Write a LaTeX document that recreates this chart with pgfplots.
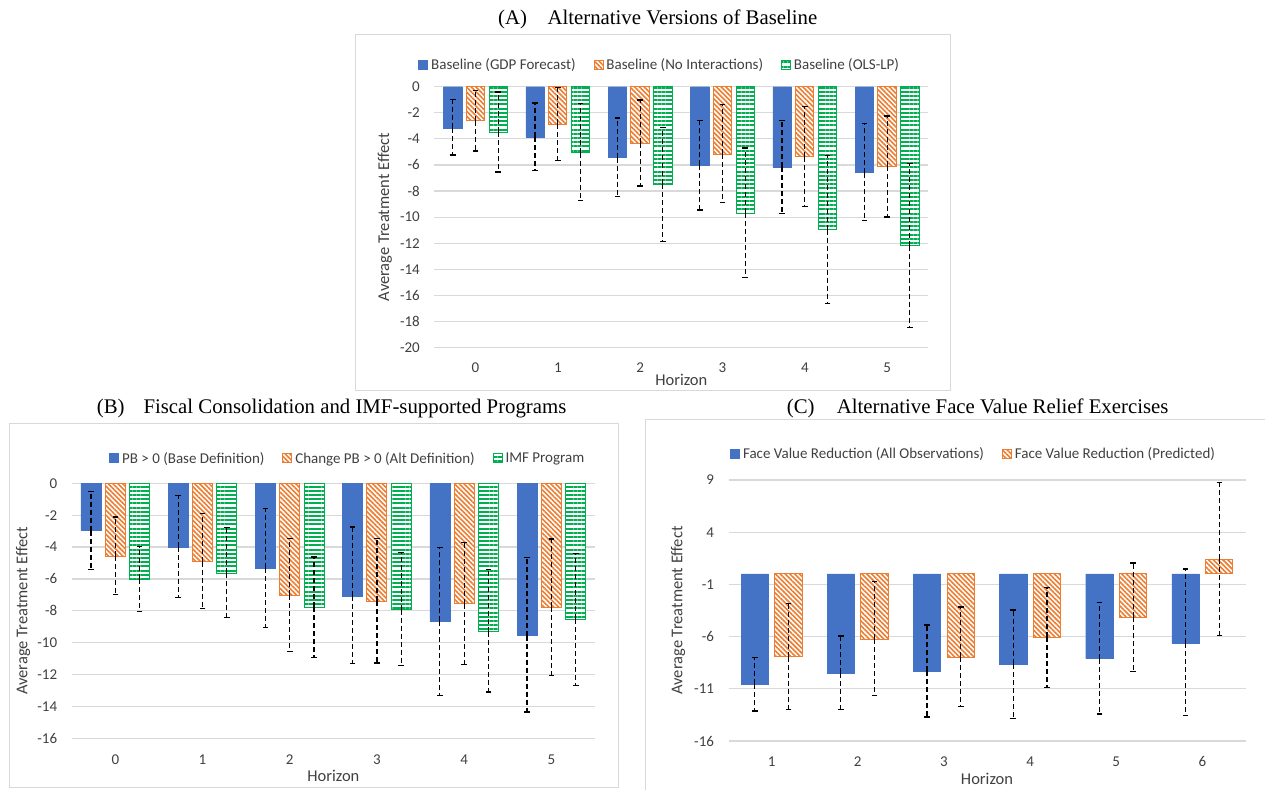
\documentclass[border=0pt]{standalone}
\usepackage{pgfplots}
\pgfplotsset{compat=1.18}
\usepackage{pgfplotstable}
\usetikzlibrary{patterns.meta}
\usepackage{fontspec}
\setmainfont{Carlito}
\newfontfamily\timesf{Liberation Serif}
\definecolor{xblue}{HTML}{4472C4}
\definecolor{xorange}{HTML}{ED7D31}
\definecolor{xgreen}{HTML}{00B050}
\definecolor{gridc}{HTML}{D9D9D9}
\definecolor{txt}{HTML}{404040}

% Panel A
\pgfplotstableread{
h v lo hi
0 -3.17 -5.24 -0.97
1 -3.86 -6.41 -1.25
2 -5.44 -8.40 -2.40
3 -6.03 -9.45 -2.58
4 -6.18 -9.73 -2.58
5 -6.59 -10.24 -2.84
}\Agdp
\pgfplotstableread{
h v lo hi
0 -2.63 -4.93 -0.31
1 -2.89 -5.67 -0.05
2 -4.34 -7.61 -1.02
3 -5.19 -8.91 -1.38
4 -5.36 -9.20 -1.51
5 -6.10 -9.99 -2.25
}\Anoint
\pgfplotstableread{
h v lo hi
0 -3.50 -6.54 -0.41
1 -5.06 -8.71 -1.30
2 -7.48 -11.85 -3.12
3 -9.71 -14.66 -4.70
4 -10.96 -16.63 -5.26
5 -12.21 -18.47 -5.87
}\Aols
% Panel B
\pgfplotstableread{
h v lo hi
0 -2.97 -5.40 -0.50
1 -4.02 -7.18 -0.77
2 -5.34 -9.07 -1.57
3 -7.08 -11.31 -2.74
4 -8.67 -13.30 -4.02
5 -9.55 -14.35 -4.67
}\Bpb
\pgfplotstableread{
h v lo hi
0 -4.57 -6.97 -2.12
1 -4.92 -7.87 -1.91
2 -7.02 -10.55 -3.46
3 -7.39 -11.27 -3.46
4 -7.56 -11.37 -3.69
5 -7.79 -12.04 -3.50
}\Bchg
\pgfplotstableread{
h v lo hi
0 -6.01 -8.06 -3.98
1 -5.63 -8.40 -2.79
2 -7.79 -10.91 -4.63
3 -7.92 -11.41 -4.34
4 -9.30 -13.09 -5.42
5 -8.52 -12.67 -4.38
}\Bimf
% Panel C
\pgfplotstableread{
h v lo hi
1 -10.57 -13.13 -8.02
2 -9.52 -13.00 -5.94
3 -9.33 -13.70 -4.89
4 -8.66 -13.83 -3.45
5 -8.11 -13.41 -2.72
6 -6.61 -13.57 0.47
}\Call
\pgfplotstableread{
h v lo hi
1 -7.92 -12.97 -2.81
2 -6.23 -11.66 -0.71
3 -7.99 -12.71 -3.16
4 -6.07 -10.86 -1.28
5 -4.15 -9.33 1.05
6 1.40 -5.91 8.74
}\Cpred

\pgfplotsset{
  sqlegend/.style={legend image code/.code={\draw[##1,solid,line width=0.8pt] (0pt,-4.5pt) rectangle (9pt,4.5pt);}},
  blueS/.style={ybar, fill=xblue, draw=xblue, line width=0.4pt, sqlegend},
  orangeS/.style={ybar, fill=white, draw=xorange, line width=1pt,
     postaction={pattern={Lines[angle=-45,distance=3.4pt,line width=1.6pt]}, pattern color=xorange}, sqlegend},
  greenS/.style={ybar, fill=white, draw=xgreen, line width=1pt,
     postaction={pattern={Lines[angle=0,distance=4.2pt,line width=1.9pt]}, pattern color=xgreen}, sqlegend},
  ebar/.style={forget plot, only marks, mark=*, mark size=0pt,
     error bars/y dir=both,
     error bars/y explicit,
     error bars/error mark=|,
     error bars/error bar style={black, line width=1.2pt, dash pattern=on 5pt off 3pt},
     error bars/error mark options={black, solid, line width=1.2pt, mark size=2.8pt},
  },
  excel/.style={
    scale only axis,
    axis line style={draw=none},
    tick style={draw=none},
    ymajorgrids,
    major grid style={draw=gridc, line width=1.2pt},
    /pgf/number format/assume math mode=true,
    tick label style={font=\fontsize{15}{18}\selectfont, text=txt},
    yticklabel style={anchor=east, inner sep=0pt, xshift=-14.3pt},
    label style={font=\fontsize{16.5}{19}\selectfont, text=txt},
    legend style={draw=none, fill=none, font=\fontsize{15}{18}\selectfont, text=txt,
       anchor=center, legend columns=-1,
       /tikz/every even column/.append style={column sep=15pt},
       nodes={inner xsep=3pt, inner ysep=1pt}},
    legend cell align=left,
  },
}

\begin{document}
\begin{tikzpicture}
\useasboundingbox (0pt,0pt) rectangle (1265pt,-789pt);
% chart frames
\draw[gridc, line width=1pt] (355pt,-34.3pt) rectangle (950pt,-390pt);
\draw[gridc, line width=1pt] (9.3pt,-423.3pt) rectangle (618.3pt,-787.3pt);
\draw[gridc, line width=1pt] (645pt,-419.3pt) rectangle (1275pt,-795pt);
% panel titles
\node[anchor=base west, inner sep=0pt, font=\timesf\fontsize{20.8}{24}\selectfont] at (498pt,-24.5pt) {(A)};
\node[anchor=base west, inner sep=0pt, font=\timesf\fontsize{20.8}{24}\selectfont] at (547.3pt,-24.5pt) {Alternative Versions of Baseline};
\node[anchor=base west, inner sep=0pt, font=\timesf\fontsize{20.8}{24}\selectfont] at (96.7pt,-413.3pt) {(B)};
\node[anchor=base west, inner sep=0pt, font=\timesf\fontsize{20.8}{24}\selectfont] at (143.3pt,-413.3pt) {Fiscal Consolidation and IMF-supported Programs};
\node[anchor=base west, inner sep=0pt, font=\timesf\fontsize{20.8}{24}\selectfont] at (786.7pt,-413.3pt) {(C)};
\node[anchor=base west, inner sep=0pt, font=\timesf\fontsize{20.8}{24}\selectfont] at (836.7pt,-413.3pt) {Alternative Face Value Relief Exercises};

% ---------- Panel A ----------
\begin{axis}[excel,
  at={(434.3pt,-86.7pt)}, anchor=north west,
  width=494pt, height=260.8pt,
  xmin=-0.5, xmax=5.5, ymin=-20, ymax=0,
  xtick={0,...,5}, ytick={0,-2,...,-20},
  xticklabel style={anchor=center, inner sep=0pt, yshift=-20.2pt},
  xlabel={Horizon}, ylabel={Average Treatment Effect},
  xlabel style={at={(axis description cs:0.5,-0.1246)}, anchor=center},
  ylabel style={at={(axis description cs:-0.1002,0.5)}, anchor=center},
  legend style={at={(0.4573,1.0832)}},
]
\addplot[blueS, bar width=0.222, bar shift=-0.276] table[x=h, y=v] {\Agdp};
\addplot[orangeS, bar width=0.222, bar shift=0] table[x=h, y=v] {\Anoint};
\addplot[greenS, bar width=0.222, bar shift=0.276] table[x=h, y=v] {\Aols};
\legend{Baseline (GDP Forecast), Baseline (No Interactions), Baseline (OLS-LP)}
\addplot[ebar] table[x expr=\thisrow{h}-0.276, y=v, y error plus expr=\thisrow{hi}-\thisrow{v}, y error minus expr=\thisrow{v}-\thisrow{lo}] {\Agdp};
\addplot[ebar] table[x=h, y=v, y error plus expr=\thisrow{hi}-\thisrow{v}, y error minus expr=\thisrow{v}-\thisrow{lo}] {\Anoint};
\addplot[ebar] table[x expr=\thisrow{h}+0.276, y=v, y error plus expr=\thisrow{hi}-\thisrow{v}, y error minus expr=\thisrow{v}-\thisrow{lo}] {\Aols};
\end{axis}

% ---------- Panel B ----------
\begin{axis}[excel,
  at={(71.7pt,-483.3pt)}, anchor=north west,
  width=523.3pt, height=255pt,
  xmin=-0.5, xmax=5.5, ymin=-16, ymax=0,
  xtick={0,...,5}, ytick={0,-2,...,-16},
  xticklabel style={anchor=center, inner sep=0pt, yshift=-21.7pt},
  xlabel={Horizon}, ylabel={Average Treatment Effect},
  xlabel style={at={(axis description cs:0.5,-0.148)}, anchor=center},
  ylabel style={at={(axis description cs:-0.0931,0.5)}, anchor=center},
  legend style={at={(0.5286,1.098)}},
]
\addplot[blueS, bar width=0.229, bar shift=-0.279] table[x=h, y=v] {\Bpb};
\addplot[orangeS, bar width=0.229, bar shift=0] table[x=h, y=v] {\Bchg};
\addplot[greenS, bar width=0.229, bar shift=0.279] table[x=h, y=v] {\Bimf};
\legend{PB > 0 (Base Definition), Change PB > 0 (Alt Definition), IMF Program}
\addplot[ebar] table[x expr=\thisrow{h}-0.279, y=v, y error plus expr=\thisrow{hi}-\thisrow{v}, y error minus expr=\thisrow{v}-\thisrow{lo}] {\Bpb};
\addplot[ebar] table[x=h, y=v, y error plus expr=\thisrow{hi}-\thisrow{v}, y error minus expr=\thisrow{v}-\thisrow{lo}] {\Bchg};
\addplot[ebar] table[x expr=\thisrow{h}+0.279, y=v, y error plus expr=\thisrow{hi}-\thisrow{v}, y error minus expr=\thisrow{v}-\thisrow{lo}] {\Bimf};
\end{axis}

% ---------- Panel C ----------
\begin{axis}[excel,
  at={(728.5pt,-480pt)}, anchor=north west,
  width=517pt, height=261pt,
  xmin=0.5, xmax=6.5, ymin=-16, ymax=9,
  xtick={1,...,6}, ytick={-16,-11,-6,-1,4,9},
  xticklabel style={anchor=center, inner sep=0pt, yshift=-20.7pt},
  xlabel={Horizon}, ylabel={Average Treatment Effect},
  xlabel style={at={(axis description cs:0.5,-0.1456)}, anchor=center},
  ylabel style={at={(axis description cs:-0.0977,0.5)}, anchor=center},
  legend style={at={(0.475,1.0996)}},
]
\addplot[blueS, bar width=0.317, bar shift=-0.196] table[x=h, y=v] {\Call};
\addplot[orangeS, bar width=0.317, bar shift=0.196] table[x=h, y=v] {\Cpred};
\legend{Face Value Reduction (All Observations), Face Value Reduction (Predicted)}
\addplot[ebar] table[x expr=\thisrow{h}-0.196, y=v, y error plus expr=\thisrow{hi}-\thisrow{v}, y error minus expr=\thisrow{v}-\thisrow{lo}] {\Call};
\addplot[ebar] table[x expr=\thisrow{h}+0.196, y=v, y error plus expr=\thisrow{hi}-\thisrow{v}, y error minus expr=\thisrow{v}-\thisrow{lo}] {\Cpred};
\end{axis}
\end{tikzpicture}
\end{document}
